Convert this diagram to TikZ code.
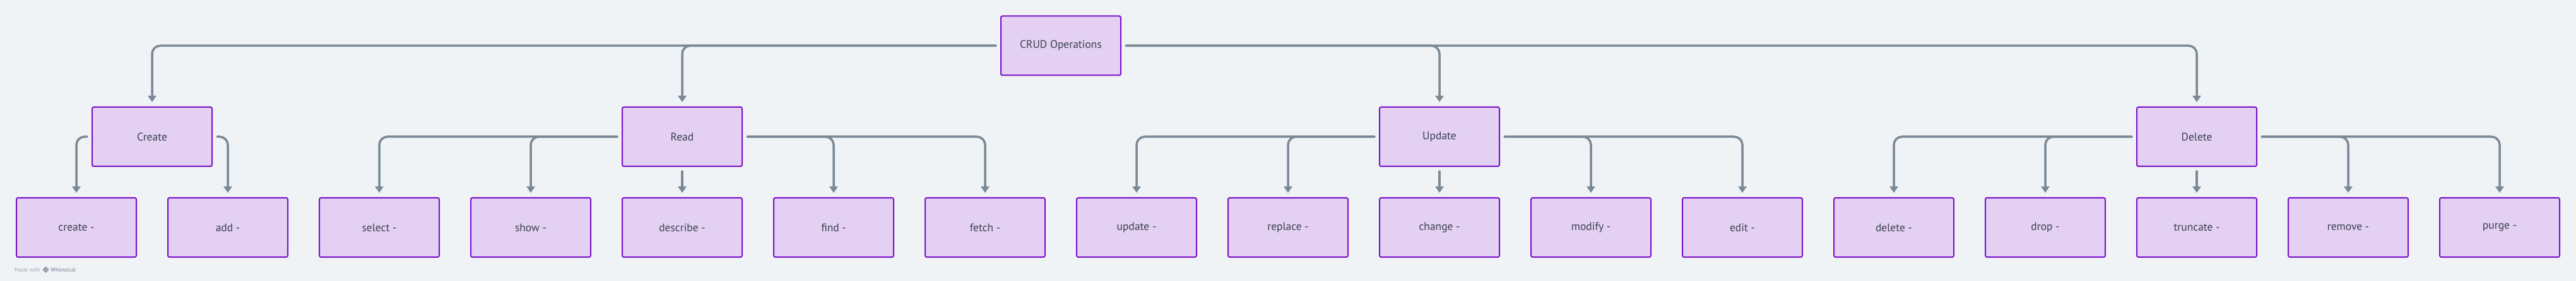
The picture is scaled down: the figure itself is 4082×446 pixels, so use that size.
\documentclass[tikz,border=0pt]{standalone}
\usepackage{fontspec}
\setmainfont{PT Sans}
\usetikzlibrary{positioning,arrows.meta,shapes.geometric}
\definecolor{bgc}{HTML}{EFF3F6}
\definecolor{boxfill}{HTML}{E3D0F3}
\definecolor{boxline}{HTML}{7A12C8}
\definecolor{lnk}{HTML}{7A8995}
\definecolor{txt}{HTML}{3C4150}
\definecolor{wm}{HTML}{9AA5B1}

\begin{document}
\begin{tikzpicture}[x=1pt,y=-1pt]
\tikzset{O/.style={rectangle,draw=boxline,line width=2pt,fill=boxfill,rounded corners=2.5pt,minimum width=190pt,minimum height=94pt,text=txt,font=\fontsize{17.5}{20}\selectfont}}
\tikzset{A/.style={draw=lnk,line width=3.5pt,line cap=round,rounded corners=13pt,-{Triangle[length=10pt,width=13pt]}}}

  \fill[bgc] (0,0) rectangle (4082,446);
  \useasboundingbox (0,0) rectangle (4082,446);

  \node[O] (r) at (1681,72.5) {CRUD Operations};

  \node[O] (g1) at (241,217)  {Create};
  \node[O] (g2) at (1081,217) {Read};
  \node[O] (g3) at (2281,217) {Update};
  \node[O] (g4) at (3481,217) {Delete};

  \node[O] (k1)  at (121,361)  {create -};
  \node[O] (k2)  at (361,361)  {add -};
  \node[O] (k3)  at (601,361)  {select -};
  \node[O] (k4)  at (841,361)  {show -};
  \node[O] (k5)  at (1081,361) {describe -};
  \node[O] (k6)  at (1321,361) {find -};
  \node[O] (k7)  at (1561,361) {fetch -};
  \node[O] (k8)  at (1801,361) {update -};
  \node[O] (k9)  at (2041,361) {replace -};
  \node[O] (k10) at (2281,361) {change -};
  \node[O] (k11) at (2521,361) {modify -};
  \node[O] (k12) at (2761,361) {edit -};
  \node[O] (k13) at (3001,361) {delete -};
  \node[O] (k14) at (3241,361) {drop -};
  \node[O] (k15) at (3481,361) {truncate -};
  \node[O] (k16) at (3721,361) {remove -};
  \node[O] (k17) at (3961,361) {purge -};

  % root to groups
  \draw[A] ([xshift=-7pt]r.west) -| ([yshift=7pt]g1.north);
  \draw[A] ([xshift=-7pt]r.west) -| ([yshift=7pt]g2.north);
  \draw[A] ([xshift=7pt]r.east) -| ([yshift=7pt]g3.north);
  \draw[A] ([xshift=7pt]r.east) -| ([yshift=7pt]g4.north);

  % groups to commands
  \draw[A] ([xshift=-7pt]g1.west) -| ([yshift=7pt]k1.north);
  \draw[A] ([xshift=7pt]g1.east) -| ([yshift=7pt]k2.north);

  \draw[A] ([xshift=-7pt]g2.west) -| ([yshift=7pt]k3.north);
  \draw[A] ([xshift=-7pt]g2.west) -| ([yshift=7pt]k4.north);
  \draw[A] ([yshift=-7pt]g2.south) -- ([yshift=7pt]k5.north);
  \draw[A] ([xshift=7pt]g2.east) -| ([yshift=7pt]k6.north);
  \draw[A] ([xshift=7pt]g2.east) -| ([yshift=7pt]k7.north);

  \draw[A] ([xshift=-7pt]g3.west) -| ([yshift=7pt]k8.north);
  \draw[A] ([xshift=-7pt]g3.west) -| ([yshift=7pt]k9.north);
  \draw[A] ([yshift=-7pt]g3.south) -- ([yshift=7pt]k10.north);
  \draw[A] ([xshift=7pt]g3.east) -| ([yshift=7pt]k11.north);
  \draw[A] ([xshift=7pt]g3.east) -| ([yshift=7pt]k12.north);

  \draw[A] ([xshift=-7pt]g4.west) -| ([yshift=7pt]k13.north);
  \draw[A] ([xshift=-7pt]g4.west) -| ([yshift=7pt]k14.north);
  \draw[A] ([yshift=-7pt]g4.south) -- ([yshift=7pt]k15.north);
  \draw[A] ([xshift=7pt]g4.east) -| ([yshift=7pt]k16.north);
  \draw[A] ([xshift=7pt]g4.east) -| ([yshift=7pt]k17.north);

  \node[text=wm,font=\fontsize{9}{11}\selectfont,anchor=west,inner sep=0] (mw) at (23,428) {Made with};
  \node[diamond,fill=wm,inner sep=0,minimum size=11pt,right=3pt of mw] (logo) {};
  \node[text=wm,font=\fontsize{9}{11}\selectfont\bfseries,inner sep=0,right=2pt of logo] (wh) {Whimsical};
\end{tikzpicture}
\end{document}
